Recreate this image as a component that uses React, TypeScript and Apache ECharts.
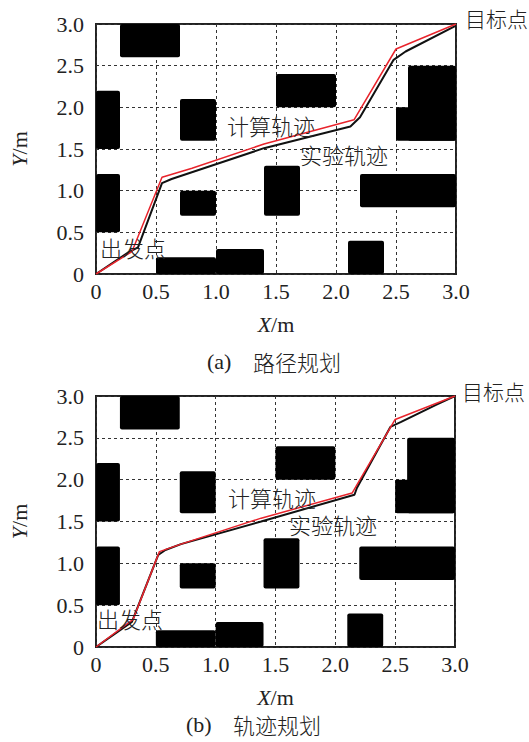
import React, { useEffect, useRef } from "react";
import * as echarts from "echarts";

// ---- data ----
const xTickLabels = ["0", "0.5", "1.0", "1.5", "2.0", "2.5", "3.0"];
const yTickLabels = ["0", "0.5", "1.0", "1.5", "2.0", "2.5", "3.0"];

// obstacles: [x0, x1, y0, y1]
const obstacles: number[][] = [
  [0.2, 0.7, 2.6, 3.0],
  [0, 0.2, 1.5, 2.2],
  [0.7, 1.0, 1.6, 2.1],
  [0, 0.2, 0.5, 1.2],
  [0.7, 1.0, 0.7, 1.0],
  [0.5, 1.0, 0, 0.2],
  [1.0, 1.4, 0, 0.3],
  [1.4, 1.7, 0.7, 1.3],
  [2.2, 3.0, 0.8, 1.2],
  [2.1, 2.4, 0, 0.4],
  [1.5, 2.0, 2.0, 2.4],
  [2.6, 3.0, 1.6, 2.5],
  [2.5, 3.0, 1.6, 2.0],
];

// (a) path planning
const planComputed: number[][] = [
  [0, 0], [0.3, 0.27], [0.55, 1.16], [0.8, 1.27], [1.4, 1.56], [2.15, 1.85], [2.5, 2.7], [3.0, 3.0],
];
const planExperiment: number[][] = [
  [0, 0], [0.27, 0.26], [0.35, 0.32], [0.55, 1.09], [0.63, 1.14], [1.4, 1.51], [2.12, 1.77],
  [2.2, 1.88], [2.48, 2.57], [2.58, 2.67], [3.0, 2.98],
];

// (b) trajectory planning
const trajComputed: number[][] = [
  [0, 0], [0.31, 0.33], [0.53, 1.14], [0.71, 1.23], [1.38, 1.54], [2.14, 1.84], [2.5, 2.72], [3.0, 3.0],
];
const trajExperiment: number[][] = [
  [0, 0], [0.3, 0.3], [0.52, 1.1], [0.58, 1.16], [0.71, 1.23], [1.38, 1.5], [2.16, 1.82],
  [2.18, 1.9], [2.46, 2.63], [2.55, 2.69], [2.85, 2.9], [3.0, 3.0],
];

const SERIF = "Liberation Serif";
const CJK = "Noto Sans CJK SC";
const TXT = "#222";

export default function App() {
  const ref = useRef<HTMLDivElement>(null);
  useEffect(() => {
    if (!ref.current) return;
    const chart = echarts.init(ref.current, null, { renderer: "svg" });

    const grids = [
      { left: 96, top: 24, width: 360, height: 250 },
      { left: 94, top: 396, width: 361, height: 251 },
    ];

    const axisCommon = {
      min: 0,
      max: 3,
      interval: 0.5,
      axisLine: { show: false },
      axisTick: { show: false },
      splitLine: { show: true, lineStyle: { color: "#333", width: 1, type: [3, 3] } },
    };

    const nameStyle = {
      fontFamily: SERIF,
      fontSize: 22,
      fontWeight: "normal",
      color: TXT,
      rich: {
        i: { fontStyle: "italic", fontWeight: "normal", fontFamily: SERIF, fontSize: 22, color: TXT },
        n: { fontStyle: "normal", fontWeight: "normal", fontFamily: SERIF, fontSize: 22, color: TXT },
      },
    };

    const xAxes = grids.map((_, i) => ({
      ...axisCommon,
      type: "value",
      gridIndex: i,
      name: "{i|X}{n|/m}",
      nameLocation: "middle",
      nameGap: 39,
      nameTextStyle: nameStyle,
      axisLabel: {
        fontFamily: SERIF,
        fontSize: 22,
        fontWeight: "normal",
        color: TXT,
        margin: 6,
        formatter: (v: number) => xTickLabels[Math.round(v / 0.5)],
      },
    }));

    const yAxes = grids.map((_, i) => ({
      ...axisCommon,
      type: "value",
      gridIndex: i,
      name: "{i|Y}{n|/m}",
      nameLocation: "middle",
      nameGap: 66,
      nameTextStyle: nameStyle,
      axisLabel: {
        fontFamily: SERIF,
        fontSize: 22,
        fontWeight: "normal",
        color: TXT,
        margin: 12,
        formatter: (v: number) => yTickLabels[Math.round(v / 0.5)],
      },
    }));

    const obstacleSeries = (i: number) => ({
      type: "custom",
      xAxisIndex: i,
      yAxisIndex: i,
      z: 2,
      encode: { x: [0, 1], y: [2, 3] },
      data: obstacles,
      renderItem: (_p: any, api: any) => {
        const a = api.coord([api.value(0), api.value(3)]);
        const b = api.coord([api.value(1), api.value(2)]);
        return {
          type: "rect",
          shape: { x: a[0], y: a[1], width: b[0] - a[0], height: b[1] - a[1], r: 2 },
          style: { fill: "#000" },
        };
      },
    });

    const lineSeries = (i: number, data: number[][], color: string, width: number, z: number) => ({
      type: "line",
      xAxisIndex: i,
      yAxisIndex: i,
      data,
      showSymbol: false,
      symbol: "none",
      z,
      lineStyle: { color, width },
    });

    const txt = (text: string, x: number, y: number, size = 22, font = CJK) => ({
      type: "text",
      x,
      y,
      z: 100,
      style: {
        text,
        fill: TXT,
        fontFamily: font,
        fontSize: size,
        fontWeight: font === CJK ? 300 : "normal",
        verticalAlign: "middle",
        align: "left",
      },
    });

    chart.setOption({
      animation: false,
      backgroundColor: "#fff",
      grid: grids.map((g) => ({ ...g, show: true, borderColor: "#222", borderWidth: 2, backgroundColor: "transparent" })),
      xAxis: xAxes,
      yAxis: yAxes,
      series: [
        obstacleSeries(0),
        lineSeries(0, planExperiment, "#111", 2, 3),
        lineSeries(0, planComputed, "#e8242c", 1.5, 4),
        obstacleSeries(1),
        lineSeries(1, trajExperiment, "#111", 2, 3),
        lineSeries(1, trajComputed, "#e8242c", 1.5, 4),
      ],
      graphic: [
        txt("目标点", 465, 18, 21),
        txt("计算轨迹", 227, 125),
        txt("实验轨迹", 300, 154),
        txt("出发点", 100, 247),
        txt("(a)", 207, 361, 22, SERIF),
        txt("路径规划", 253, 361),
        txt("目标点", 462, 391, 21),
        txt("计算轨迹", 228, 497),
        txt("实验轨迹", 289, 524),
        txt("出发点", 97, 618),
        txt("(b)", 186, 724, 22, SERIF),
        txt("轨迹规划", 233, 724),
      ],
    });
    return () => chart.dispose();
  }, []);
  return (
    <div
      ref={ref}
      style={{ position: "fixed", left: 0, top: 0, width: 529, height: 742 }}
    />
  );
}
